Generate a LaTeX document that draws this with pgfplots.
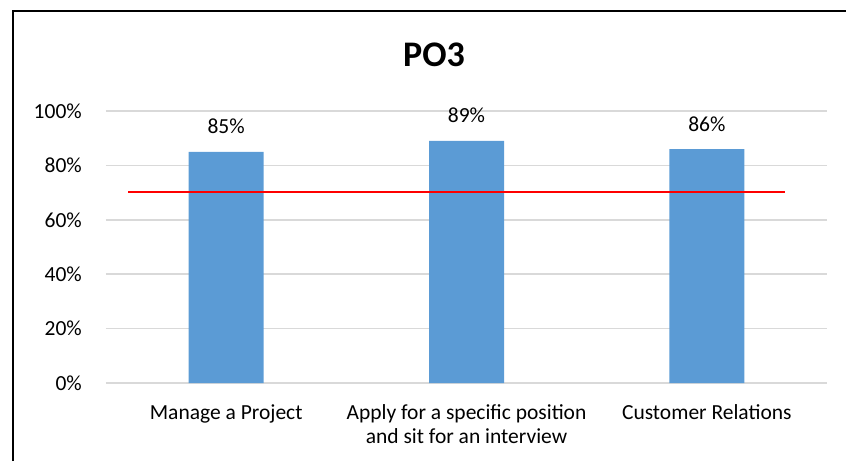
\documentclass[border=0pt]{standalone}
\usepackage{pgfplots}
\pgfplotsset{compat=1.18}
\usepackage{fontspec}
\setmainfont{Carlito}
\definecolor{barblue}{HTML}{5B9BD5}
\definecolor{gridgray}{HTML}{D9D9D9}

\begin{document}
\begin{tikzpicture}
\useasboundingbox (0,0) rectangle (846pt,461pt);
% chart frame (only left and top edges are inside the crop)
\draw[black, line width=2pt] (12.5pt,0pt) -- (12.5pt,450pt) -- (846pt,450pt);
\node[anchor=base, font=\fontsize{36}{40}\selectfont\bfseries] at (434pt,394pt) {PO3};
\begin{axis}[
  scale only axis, width=721pt, height=272pt,
  at={(106pt,78pt)}, anchor=south west,
  xmin=-0.5, xmax=2.5, ymin=0, ymax=100,
  xtick={0,1,2},
  xticklabels={Manage a Project,{Apply for a specific position\\[-2pt]and sit for an interview},Customer Relations},
  ytick={0,20,40,60,80,100},
  yticklabels={0\%,20\%,40\%,60\%,80\%,100\%},
  axis line style={draw=none},
  major tick length=0pt,
  ymajorgrids, grid style={gridgray, line width=1.5pt},
  yticklabel style={anchor=east, inner sep=0pt, xshift=-24pt, font=\fontsize{21.5}{26}\selectfont},
  xticklabel style={anchor=north, align=center, inner sep=0pt, yshift=-21.5pt, font=\fontsize{21.5}{26}\selectfont},
  clip=false,
]
\addplot[ybar, bar width=75pt, fill=barblue, draw=none,
  nodes near coords={\pgfmathprintnumber[assume math mode=true]{\pgfplotspointmeta}\%},
  every node near coord/.append style={anchor=base, inner sep=0pt, yshift=18pt, font=\fontsize{21.5}{26}\selectfont, text=black}]
  coordinates {(0,85) (1,89) (2,86)};
\addplot[red, line width=2pt, mark=none] coordinates {(-0.408,70.4) (2.325,70.4)};
\end{axis}
\end{tikzpicture}
\end{document}
